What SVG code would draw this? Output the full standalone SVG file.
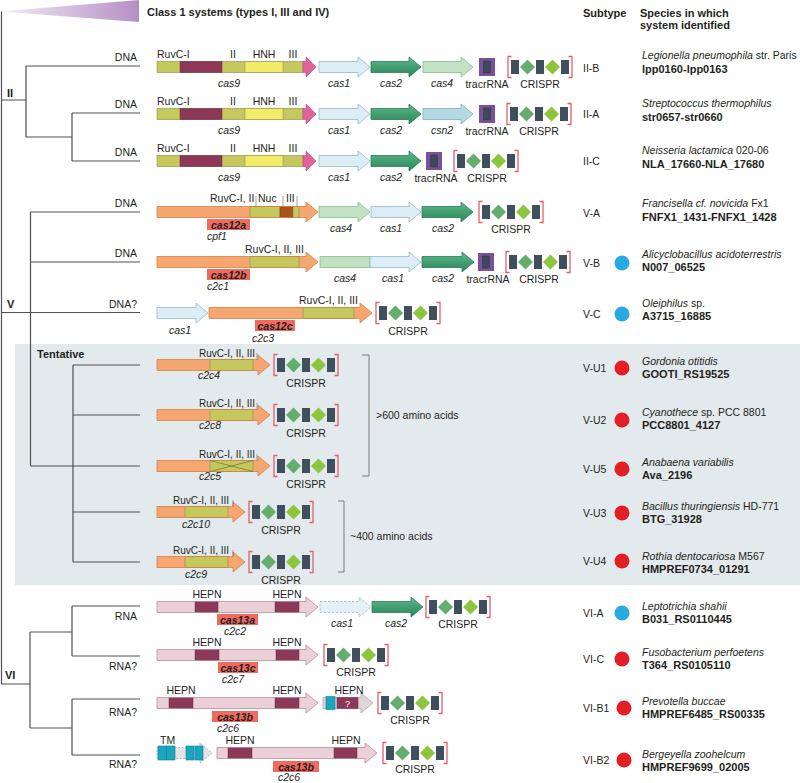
<svg xmlns="http://www.w3.org/2000/svg" xmlns:xlink="http://www.w3.org/1999/xlink" width="800" height="783" viewBox="0 0 800 783">
<style>
.t{font-family:"Liberation Sans",Arial,sans-serif;font-size:10.5px;fill:#231f20}
.s10{font-size:10px}
.i{font-style:italic}
.b{font-weight:bold}
.h{font-weight:bold;font-size:11px}
.c{text-anchor:middle}
.r{text-anchor:end}
.tree{stroke:#505050;stroke-width:1.2;fill:none}
.ol{fill:#c5c95d;stroke:#8b8b45;stroke-width:.6}
.mr{fill:#8e3859;stroke:#6b2a45;stroke-width:.5}
.c1{fill:#dcedf5;stroke:#93bac9;stroke-width:.8}
.c1d{fill:#e3f1f7;stroke:#93bac9;stroke-width:.8;stroke-dasharray:2.5 1.5}
.c2{fill:url(#gC2);stroke:#2b7d55;stroke-width:.8}
.c4{fill:#c3e2c4;stroke:#86bd90;stroke-width:.8}
.csn{fill:#b3d9e2;stroke:#79b0bf;stroke-width:.8}
.orf{fill:#f6a771}
.oro{fill:none;stroke:#d5813f;stroke-width:.8}
.pkf{fill:#ebd1d7}
.pko{fill:none;stroke:#b48f99;stroke-width:.8}
.box{fill:#f06a5f}
.cy{fill:#1ba6bf;stroke:#0e7d92;stroke-width:.6}
.dB{fill:#27aae1}
.dR{fill:#e31e24}
.brk{fill:none;stroke:#7a7a7a;stroke-width:1}
.tick{stroke:#666;stroke-width:.6;fill:none}
</style>
<defs>
<linearGradient id="gTri" x1="0" y1="0" x2="1" y2="0"><stop offset="0" stop-color="#f3edf6"/><stop offset="1" stop-color="#b58fc5"/></linearGradient>
<linearGradient id="gC2" x1="0" y1="0" x2="0" y2="1"><stop offset="0" stop-color="#5db98b"/><stop offset="1" stop-color="#2a8658"/></linearGradient>
<g id="crispr">
<path d="M4.5,-10.5H1V10.5H4.5M61.5,-10.5H65V10.5H61.5" fill="none" stroke="#e0606a" stroke-width="1.3"/>
<rect x="4" y="-7" width="8" height="14" fill="#3f4f5b"/>
<path d="M13,0L20.5,-7.5L28,0L20.5,7.5Z" fill="#64ad6c"/>
<rect x="29" y="-7" width="8" height="14" fill="#3f4f5b"/>
<path d="M38,0L45.5,-7.5L53,0L45.5,7.5Z" fill="#8cc63f"/>
<rect x="54" y="-7" width="8" height="14" fill="#3f4f5b"/>
</g>
<g id="tracr">
<rect x="0" y="-9" width="16" height="18" fill="#7c4f9d"/>
<rect x="4.5" y="-6" width="7" height="12" fill="#3b4a56" stroke="#2a343c" stroke-width=".5"/>
</g>
<g id="cas9">
<rect x="157" y="-5.5" width="146" height="11" class="ol"/>
<rect x="180" y="-5.5" width="42" height="11" class="mr"/>
<rect x="245" y="-5.5" width="38" height="11" fill="#f3ec6b" stroke="#8b8b45" stroke-width=".5"/>
<path d="M303,-5.5H306V-10L316,0L306,10V5.5H303Z" fill="#e0629c" stroke="#c04a80" stroke-width=".6"/>
</g>
<g id="c2L">
<path d="M157,-5.5H258V-10L270,0L258,10V5.5H157Z" class="orf"/>
<rect x="210" y="-5.5" width="43" height="11" class="ol"/>
<path d="M157,-5.5H258V-10L270,0L258,10V5.5H157Z" class="oro"/>
<path d="M257,-12V-5.5" class="tick"/>
</g>
<g id="c2S">
<path d="M157,-5.5H233V-10L245,0L233,10V5.5H157Z" class="orf"/>
<rect x="185" y="-5.5" width="43" height="11" class="ol"/>
<path d="M157,-5.5H233V-10L245,0L233,10V5.5H157Z" class="oro"/>
<path d="M233,-12V-5.5" class="tick"/>
</g>
<path id="arrowC13" d="M157,-5.5H306V-10L318,0L306,10V5.5H157Z"/>
</defs>

<rect x="0" y="0" width="800" height="783" fill="#ffffff"/>
<rect x="15" y="344" width="785" height="241" fill="#e3eaed"/>

<!-- header -->
<g id="header">
<path d="M0,11.5L139,0L139,22Z" fill="url(#gTri)"/>
<text class="t h" x="147" y="16">Class 1 systems (types I, III and IV)</text>
<text class="t h" x="583" y="17">Subtype</text>
<text class="t h" x="640" y="17">Species in which</text>
<text class="t h" x="640" y="29">system identified</text>
<text class="t h" x="37" y="358">Tentative</text>
</g>

<!-- connectors: tree -->
<g id="tree" class="tree">
<path d="M1.5,11.5V684"/>
<path d="M1,100H26M26,66V137M26,66H140M26,137H72M72,113V161M72,113H140M72,161H140"/>
<path d="M1,312.5H140M30.5,212V466M30.5,212H140M30.5,262H140M30.5,466H140"/>
<path d="M73,365V562M73,365H140M73,415H140M73,512H140M73,562H140"/>
<path d="M1,684H30M30,632V728M30,632H72M72,606V656M72,606H140M72,656H140M30,728H72M72,699V755M72,699H140M72,755H140"/>
</g>
<g id="treeLabels">
<text class="t h" x="7" y="97">II</text>
<text class="t h" x="7" y="308">V</text>
<text class="t h" x="5" y="679">VI</text>
<text class="t r" x="137" y="61">DNA</text>
<text class="t r" x="137" y="108">DNA</text>
<text class="t r" x="137" y="156">DNA</text>
<text class="t r" x="137" y="207">DNA</text>
<text class="t r" x="137" y="257">DNA</text>
<text class="t r" x="137" y="308">DNA?</text>
<text class="t r" x="137" y="620">RNA</text>
<text class="t r" x="137" y="670">RNA?</text>
<text class="t r" x="137" y="716">RNA?</text>
<text class="t r" x="137" y="768">RNA?</text>
</g>

<!-- Row II-B -->
<g id="row-IIB">
<use xlink:href="#cas9" href="#cas9" y="67"/>
<text class="t" x="157" y="58">RuvC-I</text>
<text class="t c" x="233" y="58">II</text>
<text class="t c" x="264" y="58">HNH</text>
<text class="t c" x="293" y="58">III</text>
<text class="t i c" x="229" y="87">cas9</text>
<path class="c1" d="M319,61.5H358V57L370,67L358,77V72.5H319Z"/>
<path class="c2" d="M371,61.5H409V57L421,67L409,77V72.5H371Z"/>
<path class="c4" d="M423,61.5H461V57L473,67L461,77V72.5H423Z"/>
<use xlink:href="#tracr" href="#tracr" x="479" y="67"/>
<use xlink:href="#crispr" href="#crispr" x="507" y="67"/>
<text class="t i c" x="339" y="87">cas1</text>
<text class="t i c" x="391" y="87">cas2</text>
<text class="t i c" x="442" y="87">cas4</text>
<text class="t c" x="487" y="88">tracrRNA</text>
<text class="t c" x="540" y="88">CRISPR</text>
</g>

<!-- Row II-A -->
<g id="row-IIA">
<use xlink:href="#cas9" href="#cas9" y="114"/>
<text class="t" x="157" y="105">RuvC-I</text>
<text class="t c" x="233" y="105">II</text>
<text class="t c" x="264" y="105">HNH</text>
<text class="t c" x="293" y="105">III</text>
<text class="t i c" x="229" y="134">cas9</text>
<path class="c1" d="M319,108.5H358V104L370,114L358,124V119.5H319Z"/>
<path class="c2" d="M371,108.5H409V104L421,114L409,124V119.5H371Z"/>
<path class="csn" d="M423,108.5H461V104L473,114L461,124V119.5H423Z"/>
<use xlink:href="#tracr" href="#tracr" x="479" y="114"/>
<use xlink:href="#crispr" href="#crispr" x="506" y="114"/>
<text class="t i c" x="339" y="134">cas1</text>
<text class="t i c" x="391" y="134">cas2</text>
<text class="t i c" x="442" y="134">csn2</text>
<text class="t c" x="487" y="135">tracrRNA</text>
<text class="t c" x="539" y="135">CRISPR</text>
</g>

<!-- Row II-C -->
<g id="row-IIC">
<use xlink:href="#cas9" href="#cas9" y="161"/>
<text class="t" x="157" y="152">RuvC-I</text>
<text class="t c" x="233" y="152">II</text>
<text class="t c" x="264" y="152">HNH</text>
<text class="t c" x="293" y="152">III</text>
<text class="t i c" x="229" y="181">cas9</text>
<path class="c1" d="M319,155.5H358V151L370,161L358,171V166.5H319Z"/>
<path class="c2" d="M371,155.5H409V151L421,161L409,171V166.5H371Z"/>
<use xlink:href="#tracr" href="#tracr" x="426" y="161"/>
<use xlink:href="#crispr" href="#crispr" x="453" y="161"/>
<text class="t i c" x="339" y="181">cas1</text>
<text class="t i c" x="391" y="181">cas2</text>
<text class="t c" x="436" y="182">tracrRNA</text>
<text class="t c" x="487" y="182">CRISPR</text>
</g>

<!-- Row V-A -->
<g id="row-VA">
<path class="orf" d="M157,206.5H306V202L318,212L306,222V217.5H157Z"/>
<rect x="250" y="206.5" width="30" height="11" class="ol"/>
<rect x="280" y="206.5" width="13" height="11" fill="#a8531f" stroke="#7a3a12" stroke-width=".5"/>
<rect x="293" y="206.5" width="6" height="11" class="ol"/>
<path class="oro" d="M157,206.5H306V202L318,212L306,222V217.5H157Z"/>
<path class="tick" d="M256,196V206.5M283,196V206.5M297,196V206.5"/>
<text class="t" x="210" y="202">RuvC-I, II</text>
<text class="t" x="258" y="202">Nuc</text>
<text class="t" x="286" y="202">III</text>
<rect class="box" x="207" y="219" width="43" height="11"/>
<text class="t b i c" x="228.5" y="228.5">cas12a</text>
<text class="t i" x="207" y="240">cpf1</text>
<path class="c4" d="M319,206.5H358V202L370,212L358,222V217.5H319Z"/>
<path class="c1" d="M371,206.5H409V202L421,212L409,222V217.5H371Z"/>
<path class="c2" d="M422,206.5H461V202L473,212L461,222V217.5H422Z"/>
<use xlink:href="#crispr" href="#crispr" x="478" y="212"/>
<text class="t i c" x="341" y="232">cas4</text>
<text class="t i c" x="391" y="232">cas1</text>
<text class="t i c" x="443" y="232">cas2</text>
<text class="t c" x="511" y="233">CRISPR</text>
</g>

<!-- Row V-B -->
<g id="row-VB">
<path class="orf" d="M157,256.5H306V252L318,262L306,272V267.5H157Z"/>
<rect x="250" y="256.5" width="49" height="11" class="ol"/>
<path class="oro" d="M157,256.5H306V252L318,262L306,272V267.5H157Z"/>
<text class="t" x="245" y="253">RuvC-I, II, III</text>
<rect class="box" x="207" y="269" width="43" height="11"/>
<text class="t b i c" x="228.5" y="278.5">cas12b</text>
<text class="t i" x="207" y="290">c2c1</text>
<rect x="320" y="256.5" width="50" height="11" class="c4"/>
<path class="c1" d="M370,256.5H409V252L421,262L409,272V267.5H370Z"/>
<path class="c2" d="M422,256.5H462V252L474,262L462,272V267.5H422Z"/>
<use xlink:href="#tracr" href="#tracr" x="478" y="262"/>
<use xlink:href="#crispr" href="#crispr" x="505" y="262"/>
<text class="t i c" x="345" y="282">cas4</text>
<text class="t i c" x="393" y="282">cas1</text>
<text class="t i c" x="443" y="282">cas2</text>
<text class="t c" x="488" y="283">tracrRNA</text>
<text class="t c" x="539" y="283">CRISPR</text>
</g>

<!-- Row V-C -->
<g id="row-VC">
<path class="c1" d="M157,307.5H196V303L208,313L196,323V318.5H157Z"/>
<path class="orf" d="M209,307.5H360V303L372,313L360,323V318.5H209Z"/>
<rect x="303" y="307.5" width="51" height="11" class="ol"/>
<path class="oro" d="M209,307.5H360V303L372,313L360,323V318.5H209Z"/>
<text class="t" x="299" y="304">RuvC-I, II, III</text>
<rect class="box" x="255" y="320" width="40" height="11"/>
<text class="t b i c" x="275" y="329.5">cas12c</text>
<text class="t i" x="252" y="342">c2c3</text>
<text class="t i c" x="180" y="334">cas1</text>
<use xlink:href="#crispr" href="#crispr" x="375" y="313"/>
<text class="t c" x="408" y="335">CRISPR</text>
</g>

<!-- Tentative rows -->
<g id="row-VU1">
<use xlink:href="#c2L" href="#c2L" y="365"/>
<text class="t s10" x="199" y="357">RuvC-I, II, III</text>
<text class="t i" x="198" y="379">c2c4</text>
<use xlink:href="#crispr" href="#crispr" x="273" y="365"/>
<text class="t c" x="306" y="387">CRISPR</text>
</g>
<g id="row-VU2">
<use xlink:href="#c2L" href="#c2L" y="415"/>
<text class="t s10" x="199" y="407">RuvC-I, II, III</text>
<text class="t i" x="199" y="429">c2c8</text>
<use xlink:href="#crispr" href="#crispr" x="273" y="415"/>
<text class="t c" x="306" y="437">CRISPR</text>
</g>
<g id="row-VU5">
<use xlink:href="#c2L" href="#c2L" y="466"/>
<path d="M210,460.5L253,471.5M210,471.5L253,460.5" stroke="#6e6e36" stroke-width=".7"/>
<text class="t s10" x="199" y="458">RuvC-I, II, III</text>
<text class="t i" x="199" y="480">c2c5</text>
<use xlink:href="#crispr" href="#crispr" x="273" y="466"/>
<text class="t c" x="306" y="488">CRISPR</text>
</g>
<g id="row-VU3">
<use xlink:href="#c2S" href="#c2S" y="512"/>
<text class="t s10" x="173" y="504">RuvC-I, II, III</text>
<text class="t i" x="182" y="528">c2c10</text>
<use xlink:href="#crispr" href="#crispr" x="248" y="512"/>
<text class="t c" x="281" y="534">CRISPR</text>
</g>
<g id="row-VU4">
<use xlink:href="#c2S" href="#c2S" y="562"/>
<text class="t s10" x="173" y="554">RuvC-I, II, III</text>
<text class="t i" x="185" y="578">c2c9</text>
<use xlink:href="#crispr" href="#crispr" x="248" y="562"/>
<text class="t c" x="281" y="584">CRISPR</text>
</g>
<g id="sizes">
<path class="brk" d="M362,355H369V476H362"/>
<text class="t" x="376" y="419">&gt;600 amino acids</text>
<path class="brk" d="M338,501H344V572H338"/>
<text class="t" x="350" y="540">~400 amino acids</text>
</g>

<!-- Row VI-A -->
<g id="row-VIA">
<use xlink:href="#arrowC13" href="#arrowC13" y="607" class="pkf"/>
<rect x="195" y="601.5" width="23" height="11" class="mr"/>
<rect x="275" y="601.5" width="24" height="11" class="mr"/>
<use xlink:href="#arrowC13" href="#arrowC13" y="607" class="pko"/>
<text class="t c" x="207" y="598">HEPN</text>
<text class="t c" x="287" y="598">HEPN</text>
<rect class="box" x="217" y="614" width="41" height="11"/>
<text class="t b i c" x="237.5" y="623.5">cas13a</text>
<text class="t i" x="224" y="635">c2c2</text>
<path class="c1d" d="M320,601.5H359V597L371,607L359,617V612.5H320Z"/>
<path class="c2" d="M372,601.5H411V597L423,607L411,617V612.5H372Z"/>
<use xlink:href="#crispr" href="#crispr" x="425" y="607"/>
<text class="t i c" x="342" y="627">cas1</text>
<text class="t i c" x="396" y="627">cas2</text>
<text class="t c" x="458" y="628">CRISPR</text>
</g>

<!-- Row VI-C -->
<g id="row-VIC">
<use xlink:href="#arrowC13" href="#arrowC13" y="655" class="pkf"/>
<rect x="195" y="649.5" width="24" height="11" class="mr"/>
<rect x="276" y="649.5" width="23" height="11" class="mr"/>
<use xlink:href="#arrowC13" href="#arrowC13" y="655" class="pko"/>
<text class="t c" x="207" y="646">HEPN</text>
<text class="t c" x="287" y="646">HEPN</text>
<rect class="box" x="218" y="662" width="40" height="11"/>
<text class="t b i c" x="238" y="671.5">cas13c</text>
<text class="t i" x="222" y="683">c2c7</text>
<use xlink:href="#crispr" href="#crispr" x="323" y="655"/>
<text class="t c" x="356" y="676">CRISPR</text>
</g>

<!-- Row VI-B1 -->
<g id="row-VIB1">
<use xlink:href="#arrowC13" href="#arrowC13" y="703" class="pkf"/>
<rect x="169" y="697.5" width="24" height="11" class="mr"/>
<rect x="275" y="697.5" width="24" height="11" class="mr"/>
<use xlink:href="#arrowC13" href="#arrowC13" y="703" class="pko"/>
<text class="t c" x="181" y="694">HEPN</text>
<text class="t c" x="287" y="694">HEPN</text>
<rect class="box" x="212" y="711" width="46" height="11"/>
<text class="t b i c" x="235" y="720.5">cas13b</text>
<text class="t i" x="217" y="732">c2c6</text>
<path d="M323,697.5H361V693L373,703L361,713V708.5H323Z" fill="#ddd5d8" stroke="#a9a0a3" stroke-width=".7"/>
<rect x="326" y="696.5" width="9" height="13" class="cy"/>
<rect x="337" y="697.5" width="21" height="11" class="mr"/>
<text class="t c" x="347.5" y="707" style="font-size:9px;fill:#ffffff">?</text>
<text class="t c" x="349" y="694">HEPN</text>
<use xlink:href="#crispr" href="#crispr" x="377" y="703"/>
<text class="t c" x="410" y="724">CRISPR</text>
</g>

<!-- Row VI-B2 -->
<g id="row-VIB2">
<path d="M157,747.5H200V743L212,753L200,763V758.5H157Z" fill="#e4e4e4" stroke="#9a9a9a" stroke-width=".7" stroke-dasharray="2 1.5"/>
<rect x="158" y="746" width="8.5" height="14" class="cy"/>
<rect x="166.5" y="746" width="8.5" height="14" class="cy"/>
<rect x="186" y="746" width="8" height="14" class="cy"/>
<rect x="195" y="746" width="8" height="14" class="cy"/>
<text class="t" x="160" y="744">TM</text>
<path class="pkf" d="M217,747.5H365V743L377,753L365,763V758.5H217Z"/>
<rect x="228" y="747.5" width="24" height="11" class="mr"/>
<rect x="334" y="747.5" width="23" height="11" class="mr"/>
<path class="pko" d="M217,747.5H365V743L377,753L365,763V758.5H217Z"/>
<text class="t c" x="240" y="744">HEPN</text>
<text class="t c" x="346" y="744">HEPN</text>
<rect class="box" x="273" y="761" width="46" height="11"/>
<text class="t b i c" x="296" y="770.5">cas13b</text>
<text class="t i" x="278" y="781">c2c6</text>
<use xlink:href="#crispr" href="#crispr" x="382" y="753"/>
<text class="t c" x="415" y="773">CRISPR</text>
</g>

<!-- Right column: subtypes and species -->
<g id="sp-IIB"><text class="t" x="583" y="72">II-B</text><text class="t" x="642" y="59"><tspan class="i">Legionella pneumophila</tspan> str. Paris</text><text class="t h" x="642" y="73">lpp0160-lpp0163</text></g>
<g id="sp-IIA"><text class="t" x="583" y="118">II-A</text><text class="t i" x="642" y="107">Streptococcus thermophilus</text><text class="t h" x="642" y="121">str0657-str0660</text></g>
<g id="sp-IIC"><text class="t" x="583" y="165">II-C</text><text class="t" x="642" y="154"><tspan class="i">Neisseria lactamica</tspan> 020-06</text><text class="t h" x="642" y="168">NLA_17660-NLA_17680</text></g>
<g id="sp-VA"><text class="t" x="583" y="217">V-A</text><text class="t" x="642" y="207"><tspan class="i">Francisella cf. novicida</tspan> Fx1</text><text class="t h" x="642" y="221">FNFX1_1431-FNFX1_1428</text></g>
<g id="sp-VB"><text class="t" x="583" y="267">V-B</text><circle class="dB" cx="622" cy="263" r="7.5"/><text class="t i" x="642" y="258">Alicyclobacillus acidoterrestris</text><text class="t h" x="642" y="271">N007_06525</text></g>
<g id="sp-VC"><text class="t" x="583" y="318">V-C</text><circle class="dB" cx="622" cy="314" r="7.5"/><text class="t" x="642" y="307"><tspan class="i">Oleiphilus</tspan> sp.</text><text class="t h" x="642" y="320">A3715_16885</text></g>
<g id="sp-VU1"><text class="t" x="583" y="372">V-U1</text><circle class="dR" cx="622" cy="368" r="7.5"/><text class="t i" x="642" y="365">Gordonia otitidis</text><text class="t h" x="642" y="378">GOOTI_RS19525</text></g>
<g id="sp-VU2"><text class="t" x="583" y="424">V-U2</text><circle class="dR" cx="622" cy="420" r="7.5"/><text class="t" x="642" y="416"><tspan class="i">Cyanothece</tspan> sp. PCC 8801</text><text class="t h" x="642" y="429">PCC8801_4127</text></g>
<g id="sp-VU5"><text class="t" x="583" y="473">V-U5</text><circle class="dR" cx="622" cy="469" r="7.5"/><text class="t i" x="642" y="466">Anabaena variabilis</text><text class="t h" x="642" y="479">Ava_2196</text></g>
<g id="sp-VU3"><text class="t" x="583" y="517">V-U3</text><circle class="dR" cx="622" cy="513" r="7.5"/><text class="t" x="642" y="510"><tspan class="i">Bacillus thuringiensis</tspan> HD-771</text><text class="t h" x="642" y="523">BTG_31928</text></g>
<g id="sp-VU4"><text class="t" x="583" y="565">V-U4</text><circle class="dR" cx="622" cy="561" r="7.5"/><text class="t" x="642" y="560"><tspan class="i">Rothia dentocariosa</tspan> M567</text><text class="t h" x="642" y="573">HMPREF0734_01291</text></g>
<g id="sp-VIA"><text class="t" x="583" y="617">VI-A</text><circle class="dB" cx="622" cy="613" r="7.5"/><text class="t i" x="642" y="610">Leptotrichia shahii</text><text class="t h" x="642" y="623">B031_RS0110445</text></g>
<g id="sp-VIC"><text class="t" x="583" y="663">VI-C</text><circle class="dR" cx="622" cy="659" r="7.5"/><text class="t i" x="642" y="656">Fusobacterium perfoetens</text><text class="t h" x="642" y="669">T364_RS0105110</text></g>
<g id="sp-VIB1"><text class="t" x="583" y="712">VI-B1</text><circle class="dR" cx="624" cy="708" r="7.5"/><text class="t i" x="642" y="705">Prevotella buccae</text><text class="t h" x="642" y="718">HMPREF6485_RS00335</text></g>
<g id="sp-VIB2"><text class="t" x="583" y="764">VI-B2</text><circle class="dR" cx="624" cy="760" r="7.5"/><text class="t i" x="642" y="758">Bergeyella zoohelcum</text><text class="t h" x="642" y="771">HMPREF9699_02005</text></g>
</svg>
